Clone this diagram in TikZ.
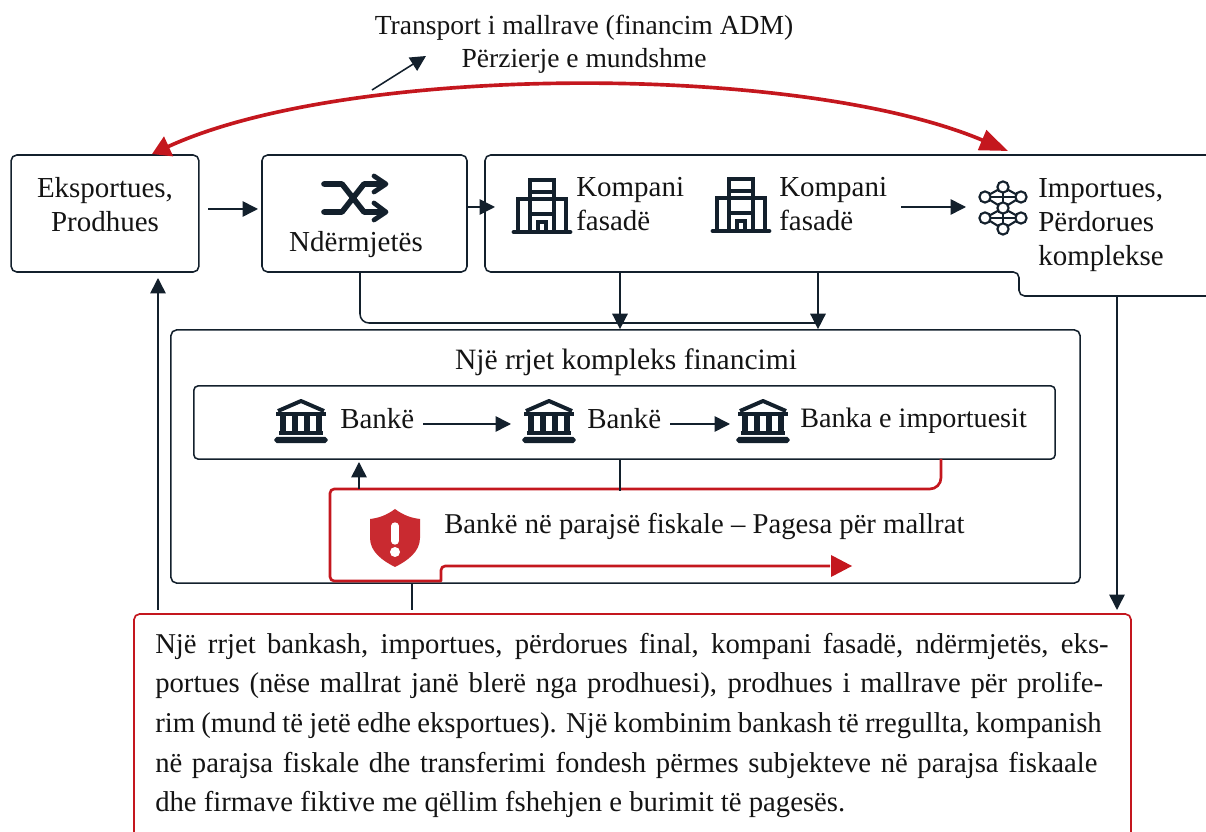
\documentclass[tikz,border=0pt]{standalone}
\usepackage{fontspec}
\setmainfont{Liberation Serif}
\usetikzlibrary{arrows.meta}

\definecolor{errresht}{HTML}{13202C}
\definecolor{kuqe}{HTML}{C4171E}

\newcommand{\rresht}[2]{\makebox[#1pt][s]{#2}\\}

\tikzset{
    kuti/.style={draw=errresht, line width=1.1pt, rounded corners=4pt},
    shigjete/.style={draw=errresht, line width=1.1pt, -{Triangle[length=11pt,width=11pt]}, rounded corners=8pt},
    vije/.style={draw=errresht, line width=1.1pt},
    kuqvije/.style={draw=kuqe, line width=1.9pt, rounded corners=3pt},
    tekst/.style={font=\fontsize{20.6}{24.3}\selectfont, text=black!92, align=center, inner sep=0pt},
    ikone/.style={draw=errresht, line width=3.2pt},
    bankicon/.pic={
        \draw[ikone, line width=2.8pt, line join=round] (-23,-10) -- (0,-20) -- (23,-10);
        \draw[ikone] (-25,-7) -- (25,-7);
        \foreach \x in {-18,-6,6,18} {
            \draw[ikone, line width=3.6pt] (\x,-7) -- (\x,12);
        }
        \draw[ikone] (-22,12) -- (22,12);
        \draw[ikone, line width=2.4pt, rounded corners=1pt] (-25,17.5) rectangle (25,20.5);
    },
    buildicon/.pic={
        \draw[ikone, line width=3.4pt, line cap=round] (-28,26) -- (28,26);
        \draw[ikone] (-12,26) -- (-12,-26) -- (12,-26) -- (12,26);
        \draw[ikone] (-12,-14) -- (12,-14);
        \draw[ikone] (-24,26) -- (-24,-7) -- (24,-7) -- (24,26);
        \draw[ikone] (-12,8) -- (12,8);
        \draw[ikone, line width=2.6pt] (-4,26) -- (-4,16) -- (4,16) -- (4,26);
    },
    neticon/.pic={
        \draw[vije, line width=1.5pt] (0,-21) -- (0,21);
        \draw[vije, line width=1.5pt] (-18,-11) -- (18,-11) (-18,10) -- (18,10);
        \draw[vije, line width=1.5pt] (-18,-11) -- (0,0) -- (18,-11) (-18,10) -- (0,0) -- (18,10);
        \draw[vije, line width=1.5pt] (-18,10) -- (0,21) -- (18,10) (-18,-11) -- (0,-21) -- (18,-11);
        \foreach \x/\y in {0/-21,-18/-11,18/-11,0/0,-18/10,18/10,0/21} {
            \draw[vije, line width=1.5pt, fill=white] (\x,\y) circle (5.6);
        }
    },
    shuffleicon/.pic={
        \draw[ikone, line width=4pt, line cap=round, line join=round] (-31,-13) -- (-13,-13) -- (9,15) -- (27,15);
        \draw[ikone, line width=4pt, line cap=round, line join=round] (-31,15) -- (-13,15) -- (9,-13) -- (27,-13);
        \draw[ikone, line width=3.4pt, line cap=round, line join=round] (19,-21) -- (31,-13) -- (19,-5);
        \draw[ikone, line width=3.4pt, line cap=round, line join=round] (19,6) -- (31,15) -- (19,23);
    },
    shieldicon/.pic={
        \fill[kuqe!92!white] (0,-29) .. controls (-8,-23) and (-16,-20) .. (-25,-19) -- (-25,0)
            .. controls (-25,14) and (-12,23) .. (0,29) .. controls (12,23) and (25,14) .. (25,0)
            -- (25,-19) .. controls (16,-20) and (8,-23) .. (0,-29) -- cycle;
        \draw[white, line width=5.2pt, line cap=round] (0,-12) -- (0,3);
        \fill[white] (0,14) circle (5);
    },
}

\begin{document}
\begin{tikzpicture}[x=0.025cm, y=-0.025cm]
        \useasboundingbox (0,0) rectangle (1206,832);
        % rreshti i siperm
        \node[tekst, font=\fontsize{19.6}{23.5}\selectfont] (titull) at (584,44) {Transport i mallrave (financim ADM)\\Përzierje e mundshme};
        \coordinate (titullfund) at (426,56);
        \coordinate (titullfill) at (372,90);
        \draw[shigjete] (titullfill) -- (titullfund);

        \node[kuti, minimum width=133.5pt, minimum height=83.2pt] (eksportues) at (105,213.5) {};
        \node[tekst] (eksportuestxt) at (105,205) {Eksportues,\\Prodhues};
        \node[kuti, minimum width=145.8pt, minimum height=83.2pt] (ndermjetes) at (364.5,213.5) {};
        \pic at (355,197) {shuffleicon};
        \node[tekst] (ndermjetestxt) at (356,245) {Ndërmjetës};

        % kutia e kompanive, hapur djathtas
        \coordinate (fasadeA) at (620,272);
        \coordinate (fasadeB) at (818,272);
        \coordinate (fasadehyrje) at (495,207);
        \coordinate (ndermjeteshyrje) at (258,209);
        \draw[kuti] (1206,155) -- (485,155) -- (485,272) -- (1019,272) -- (1019,296) -- (1206,296);
        \pic at (542,206) {buildicon};
        \node[tekst, align=left, anchor=west] (kompaniA) at (576,204) {Kompani\\fasadë};
        \pic at (741,205) {buildicon};
        \node[tekst, align=left, anchor=west] (kompaniB) at (779,204) {Kompani\\fasadë};
        \pic at (1003,208) {neticon};
        \coordinate (importuesicon) at (966,207);
        \coordinate (kompanifund) at (901,207);
        \node[tekst, align=left, anchor=west] (importues) at (1038,225) {Importues,\\Përdorues\\komplekse};

        \draw[kuqvije, line width=2.6pt, rounded corners=0pt, {Triangle[length=13pt,width=15pt]}-{Triangle[length=20pt,width=15pt]}]
            (152,154) .. controls (350,63) and (800,63) .. (1008,151);

        \draw[shigjete, shorten <=6pt] (eksportues.east |- ndermjeteshyrje) -- (ndermjeteshyrje);
        \draw[shigjete] (ndermjetes.east |- fasadehyrje) -- (fasadehyrje);
        \draw[shigjete] (kompanifund) -- (importuesicon);

        % rrjeti i financimit
        \node[kuti, minimum width=646.5pt, minimum height=180pt] (rrjet) at (625.5,456.5) {};
        \node[tekst, font=\fontsize{21}{24.3}\selectfont] (rrjettxt) at (626,362) {Një rrjet kompleks financimi};
        \node[kuti, rounded corners=3pt, minimum width=612.5pt, minimum height=52pt] (banka) at (624.5,422.5) {};
        \pic at (301,421) {bankicon};
        \node[tekst, anchor=west] (bankaA) at (340,419) {Bankë};
        \pic at (549,421) {bankicon};
        \node[tekst, anchor=west] (bankaB) at (587,419) {Bankë};
        \pic at (763,421) {bankicon};
        \node[tekst, anchor=west, font=\fontsize{20}{24.3}\selectfont] (bankaC) at (800,421) {Banka e importuesit};
        \coordinate (bankaAfund) at (511,424);
        \coordinate (bankaBfund) at (730,424);
        \draw[shigjete, shorten <=6pt] (bankaA.east |- bankaAfund) -- (bankaAfund);
        \draw[shigjete, shorten <=6pt] (bankaB.east |- bankaBfund) -- (bankaBfund);

        \draw[vije] (360,272) -- (360,314) arc[start angle=180, end angle=90, radius=9] -- (818,323);
        \draw[shigjete] (fasadeA) -- (fasadeA |- rrjet.north);
        \draw[shigjete] (fasadeB) -- (fasadeB |- rrjet.north);

        % banka ne parajse fiskale
        \coordinate (parajsefund) at (852,566);
        \draw[kuqvije, line join=round] (941,459) [rounded corners=8pt] -- (941,489) [rounded corners=3pt] -- (330,489) -- (330,581) [sharp corners] -- (441,581) [rounded corners=3pt] -- (441,566) -- (830,566);
        \draw[draw=none, fill=kuqe] (parajsefund) -- (831,555) -- (831,577) -- cycle;
        \pic at (395,538) {shieldicon};
        \node[tekst, anchor=west, font=\fontsize{20.4}{24.3}\selectfont] (parajse) at (444,526) {Bankë në parajsë fiskale -- Pagesa për mallrat};
        \coordinate (parajselart) at (359,489);
        \coordinate (parajsemaje) at (359,462);
        \draw[shigjete] (parajselart) -- (parajsemaje);
        \coordinate (parajselidhje) at (620,491);
        \draw[vije] (parajselidhje |- banka.south) -- (parajselidhje);

        % teksti poshte
        \draw[kuti, draw=kuqe, line width=1.2pt] (134,840) -- (134,614) -- (1131,614) -- (1131,840);
        \coordinate (tekstlart) at (412,610);
        \draw[vije] (tekstlart |- rrjet.south) -- (tekstlart);
        \coordinate (tekstmajtas) at (158,610);
        \coordinate (tekstdjathtas) at (1117,610);
        \coordinate (eksportuesposhte) at (158,278);
        \coordinate (importuesposhte) at (1117,296);
        \draw[shigjete] (tekstmajtas) -- (eksportuesposhte);
        \draw[shigjete] (importuesposhte) -- (tekstdjathtas);
        \node[tekst, align=left, anchor=north west, font=\fontsize{20.4}{28.1}\selectfont] (pershkrim) at (155,633) {%
            \rresht{678}{Një rrjet bankash, importues, përdorues final, kompani fasadë, ndërmjetës, eks-}%
            \rresht{674}{portues (nëse mallrat janë blerë nga prodhuesi), prodhues i mallrave për prolife-}%
            \rresht{673}{rim (mund të jetë edhe eksportues). Një kombinim bankash të rregullta, kompanish}%
            \rresht{670}{në parajsa fiskale dhe transferimi fondesh përmes subjekteve në parajsa fiskaale}%
            dhe firmave fiktive me qëllim fshehjen e burimit të pagesës.};
    \end{tikzpicture}
\end{document}
